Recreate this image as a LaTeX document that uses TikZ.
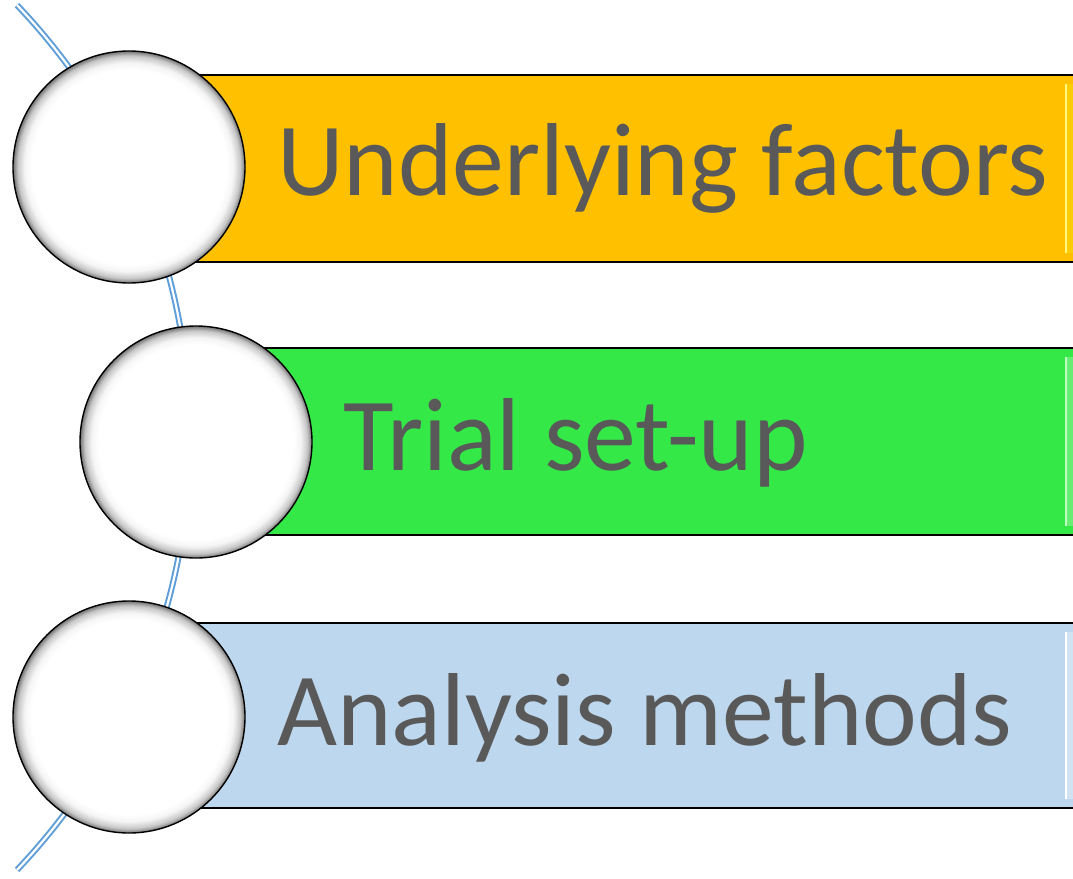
\documentclass[tikz,border=0pt]{standalone}
\usepackage{fontspec}
\setmainfont{Carlito}
\definecolor{arcblue}{RGB}{96,158,216}
\definecolor{boxorange}{RGB}{255,192,0}
\definecolor{boxgreen}{RGB}{51,232,71}
\definecolor{boxblue}{RGB}{189,215,238}
\definecolor{txtgray}{RGB}{89,89,89}
\pgfdeclareradialshading{bubble}{\pgfpoint{0bp}{0bp}}{color(0bp)=(white); color(21bp)=(white); color(22.5bp)=(black!4); color(24bp)=(black!22); color(25bp)=(black!55); color(50bp)=(black!55)}
\tikzset{
  bar/.style={draw=black, line width=1.3pt},
  bubblenode/.style={circle, minimum size=232pt, inner sep=0pt, draw=black, line width=1.4pt, shading=bubble},
  label/.style={anchor=base west, text=txtgray, font=\fontsize{103.7}{110}\selectfont, inner sep=0pt},
  arcline/.style={draw=arcblue, double=white, double distance=2.2pt, line width=2pt}
}
\begin{document}
\begin{tikzpicture}[x=1pt,y=-1pt]
\useasboundingbox (0,0) rectangle (1073,878);
% background arc
\coordinate (arcc) at (-437,437.5);
\draw[arcline] (arcc) ++(-43.6:627) arc[start angle=-43.6, end angle=43.6, radius=627];
% boxes
\fill[boxorange] (130,75) rectangle (1085,262);
\draw[bar] (130,75) -- (1085,75) (130,262) -- (1085,262);
\fill[yellow!30!boxorange] (1066,84) rectangle (1085,253);
\draw[line width=1.5pt, draw=yellow!50!white] (1066,84) -- (1066,253);
\fill[boxgreen] (196,348) rectangle (1085,535);
\draw[bar] (196,348) -- (1085,348) (196,535) -- (1085,535);
\fill[white!25!boxgreen] (1066,357) rectangle (1085,526);
\draw[line width=1.5pt, draw=green!25!white] (1066,357) -- (1066,526);
\fill[boxblue] (130,623) rectangle (1085,808);
\draw[bar] (130,623) -- (1085,623) (130,808) -- (1085,808);
\fill[white!30!boxblue] (1066,632) rectangle (1085,799);
\draw[line width=1.5pt, draw=white] (1066,632) -- (1066,799);
% circles
\node[bubblenode] (c1) at (129,167) {};
\node[bubblenode] (c2) at (196,442) {};
\node[bubblenode] (c3) at (129,717) {};
% labels
\node[label] (t1) at (277,195) {Underlying factors};
\node[label] (t2) at (343,470) {Trial set-up};
\node[label] (t3) at (277,745) {Analysis methods};
\end{tikzpicture}
\end{document}
